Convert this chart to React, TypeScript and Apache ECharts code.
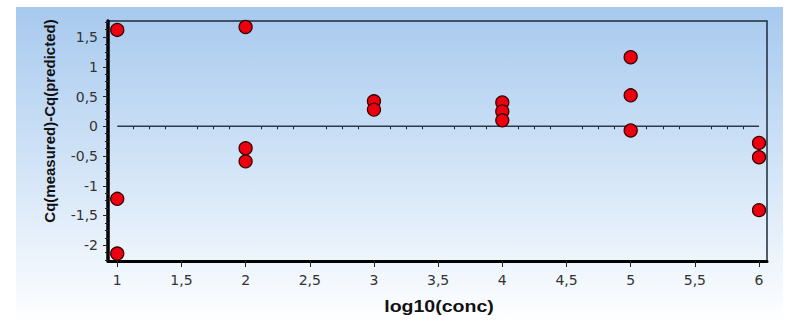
import React, { useEffect, useRef } from "react";
import * as echarts from "echarts";

// ---- data ----
const xTickValues = [1, 1.5, 2, 2.5, 3, 3.5, 4, 4.5, 5, 5.5, 6];
const yTickValues = [-2, -1.5, -1, -0.5, 0, 0.5, 1, 1.5];
const logConc = [1, 1, 1, 2, 2, 2, 3, 3, 4, 4, 4, 5, 5, 5, 6, 6, 6];
const cqResidual = [1.62, -1.22, -2.14, 1.67, -0.37, -0.59, 0.42, 0.28, 0.4, 0.25, 0.1, 1.16, 0.52, -0.07, -0.28, -0.52, -1.41];
const zeroLineX = [1, 6];
const zeroLineY = [0, 0];

const X_MIN = 0.928;
const X_MAX = 6.062;
const Y_MIN = -2.265;
const Y_MAX = 1.77;
const MINOR_STEP = 0.125;

function minorTicks(min: number, max: number, majors: number[]) {
  const out: number[] = [];
  const start = Math.ceil(min / MINOR_STEP) * MINOR_STEP;
  for (let v = start; v <= max + 1e-9; v += MINOR_STEP) {
    const r = Math.round(v * 1000) / 1000;
    if (!majors.some((m) => Math.abs(m - r) < 1e-6)) out.push(r);
  }
  return out;
}

const fmt = (v: number) => String(v).replace(".", ",");
const FONT = "'Liberation Sans', Arial, sans-serif";
const TICK_FONT = "'DejaVu Sans', Verdana, sans-serif";

export default function App() {
  const ref = useRef<HTMLDivElement>(null);
  useEffect(() => {
    if (!ref.current) return;
    const chart = echarts.init(ref.current, undefined, { renderer: "svg" });
    const grid = { left: 108, right: 21, top: 21, bottom: 66 };
    const points = logConc.map((x, i) => [x, cqResidual[i]]);
    const zero = zeroLineX.map((x, i) => [x, zeroLineY[i]]);
    const xMinor = minorTicks(X_MIN, X_MAX, xTickValues);
    const yMinor = minorTicks(Y_MIN, Y_MAX, yTickValues);
    chart.setOption({
      animation: false,
      backgroundColor: "transparent",
      grid: {
        ...grid,
        show: true,
        borderColor: "#1c2b3c",
        borderWidth: 1.5,
        backgroundColor: "transparent",
      },
      xAxis: [
        {
          type: "value",
          min: X_MIN,
          max: X_MAX,
          position: "bottom",
          axisLine: { show: true, onZero: false, lineStyle: { color: "#000", width: 3 } },
          axisTick: { show: true, customValues: xTickValues, length: 6, lineStyle: { color: "#222", width: 1 } },
          axisLabel: {
            customValues: xTickValues,
            formatter: fmt,
            margin: 12,
            color: "#333",
            fontSize: 14,
            fontFamily: TICK_FONT,
          },
          splitLine: { show: false },
        },
        {
          type: "value",
          min: X_MIN,
          max: X_MAX,
          position: "bottom",
          axisLine: { show: false },
          axisTick: { show: true, customValues: xMinor, length: 3, lineStyle: { color: "#222", width: 1 } },
          axisLabel: { show: false },
          splitLine: { show: false },
        },
      ],
      yAxis: [
        {
          type: "value",
          min: Y_MIN,
          max: Y_MAX,
          position: "left",
          axisLine: { show: true, onZero: false, lineStyle: { color: "#000", width: 3.5 } },
          axisTick: { show: true, customValues: yTickValues, length: 5, lineStyle: { color: "#222", width: 1 } },
          axisLabel: {
            customValues: yTickValues,
            formatter: fmt,
            margin: 10,
            color: "#333",
            fontSize: 14,
            fontFamily: TICK_FONT,
          },
          splitLine: { show: false },
        },
        {
          type: "value",
          min: Y_MIN,
          max: Y_MAX,
          position: "left",
          axisLine: { show: false },
          axisTick: { show: true, customValues: yMinor, length: 3, lineStyle: { color: "#222", width: 1 } },
          axisLabel: { show: false },
          splitLine: { show: false },
        },
      ],
      series: [
        {
          type: "line",
          data: zero,
          xAxisIndex: 0,
          yAxisIndex: 0,
          showSymbol: false,
          symbol: "none",
          lineStyle: { color: "#2a3a4e", width: 1.5 },
          z: 2,
        },
        {
          type: "scatter",
          data: points,
          xAxisIndex: 0,
          yAxisIndex: 0,
          symbol: "circle",
          symbolSize: 13,
          itemStyle: { color: "#ec0010", borderColor: "#3a0000", borderWidth: 1.3, opacity: 1 },
          z: 3,
        },
      ],
      graphic: [
        {
          type: "text",
          x: 49,
          y: 121,
          rotation: Math.PI / 2,
          style: {
            text: "Cq(measured)-Cq(predicted)",
            fontSize: 15,
            fontWeight: "bold",
            fontFamily: FONT,
            fill: "#111",
            align: "center",
            verticalAlign: "middle",
          },
        },
        {
          type: "text",
          x: 439,
          y: 306,
          scaleX: 1.15,
          style: {
            text: "log10(conc)",
            fontSize: 17,
            fontWeight: "bold",
            fontFamily: FONT,
            fill: "#111",
            align: "center",
            verticalAlign: "middle",
          },
        },
      ],
    });
    return () => chart.dispose();
  }, []);

  return (
    <div style={{ position: "absolute", left: 0, top: 0, width: 788, height: 327, background: "#fff" }}>
      <div
        style={{
          position: "absolute",
          left: 16,
          top: 7,
          width: 767,
          height: 316,
          background: "linear-gradient(to bottom, #a7c9ee 0%, #cde1f6 45%, #ffffff 100%)",
        }}
      />
      <div ref={ref} style={{ position: "absolute", left: 0, top: 0, width: 788, height: 327 }} />
    </div>
  );
}
